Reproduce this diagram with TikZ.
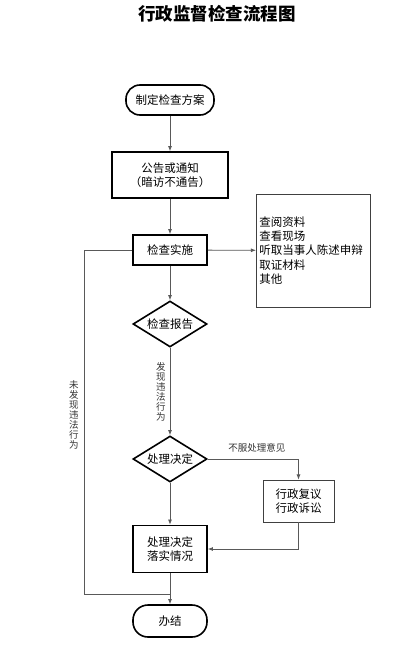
\documentclass[tikz,border=0pt]{standalone}
\usepackage{fontspec}
\setmainfont{Noto Sans CJK SC}
\usetikzlibrary{arrows.meta,shapes.geometric}

\begin{document}
\begin{tikzpicture}[x=1pt, y=-1pt, every node/.style={font=\fontsize{11.5}{14.3}\selectfont, inner sep=1pt}, >={Latex[length=1.8mm, width=1.4mm]},
	flow/.style={draw=black!65, line width=0.8pt},
	term/.style={draw, line width=1.6pt, rounded corners=14pt, minimum width=88pt, minimum height=30pt},
	thickbox/.style={draw, line width=1.6pt, minimum width=74pt, minimum height=30pt, align=center},
	thinbox/.style={draw=black!75, line width=0.8pt, align=center},
	decide/.style={draw, diamond, line width=1.6pt, aspect=1.6, minimum width=74pt, minimum height=46pt, inner sep=0pt},
	vlabel/.style={font=\fontsize{9.5}{10}\selectfont, align=center, inner sep=0pt, text=black!80}]
	\useasboundingbox[fill=white] (0,0) rectangle (414,645);
	\node[font=\fontsize{17.5}{20}\selectfont\bfseries] (title) at (217,14) {行政监督检查流程图};
	% main column
	\node[term] (plan) at (170,100) {制定检查方案};
	\node[thickbox, minimum width=116pt, minimum height=46pt] (notice) at (170,175) {公告或通知\\（暗访不通告）};
	\node[thickbox] (exec) at (170,250) {检查实施};
	\node[decide] (report) at (170,324) {检查报告};
	\node[decide] (decision) at (170,459) {处理决定};
	\node[thickbox, minimum height=47pt] (carry) at (170,549) {处理决定\\落实情况};
	\node[term, minimum width=74pt, minimum height=32pt, rounded corners=15pt] (close) at (170,621) {办结};
	% side boxes
	\node[thinbox, align=left, text width=108pt, minimum height=113pt, inner sep=3pt, anchor=west] (means) at (256,250.5) {查阅资料\\查看现场\\听取当事人陈述申辩\\取证材料\\其他};
	\node[thinbox, minimum width=71pt, minimum height=42pt] (review) at (298.5,501) {行政复议\\行政诉讼};
	\coordinate (join) at (170,594);
	% connectors
	\draw[flow, ->] (plan) -- (notice);
	\draw[flow, ->] (notice) -- (exec);
	\draw[flow, ->] (exec) -- (means);
	\draw[flow, ->] (exec) -- (report);
	\draw[flow, ->] (report) -- node[vlabel, left=4pt, pos=0.5] {发\\现\\违\\法\\行\\为} (decision);
	\draw[flow, ->] (decision) -- (carry);
	\draw[flow, ->] (decision.east) -| node[pos=0.27, above=5pt, font=\fontsize{9.5}{10}\selectfont, text=black!80] {不服处理意见} (review.north);
	\draw[flow, ->] (review.south) |- (carry.east);
	\draw[flow, ->] (carry) -- (close);
	\draw[flow] (exec.west) -| node[vlabel, pos=0.74, left=5pt] {未\\发\\现\\违\\法\\行\\为} (84,594) -- (join);
\end{tikzpicture}
\end{document}
